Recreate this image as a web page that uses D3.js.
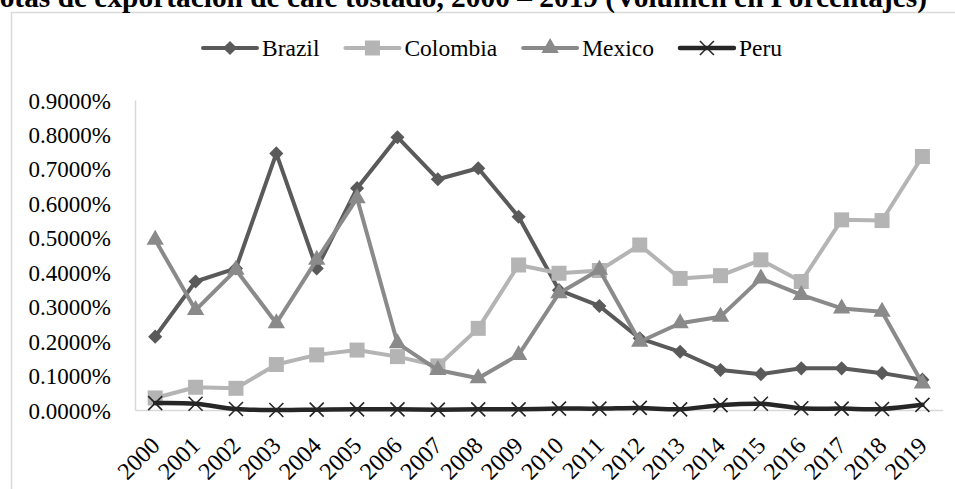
<!DOCTYPE html>
<html lang="es">
<head>
    <meta charset="UTF-8">
    <title>Cuotas de exportación de café tostado</title>
    <script src="https://d3js.org/d3.v7.min.js"></script>
    <style>
        body {
            margin: 0;
            background: #fff;
            font-family: "Liberation Serif", "Times New Roman", serif;
        }
        .axis path {
            stroke: #d9d9d9;
            stroke-width: 1.5px;
        }
    </style>
</head>
<body>
    <div id="chart"></div>

    <script>
        const width = 955;
        const height = 489;
        const serif = '"Liberation Serif", "Times New Roman", serif';

        // data (share of volume, as fraction)
        const years = ["2000", "2001", "2002", "2003", "2004", "2005", "2006", "2007", "2008", "2009",
                       "2010", "2011", "2012", "2013", "2014", "2015", "2016", "2017", "2018", "2019"];
        const brazil = [0.00213, 0.00373, 0.00411, 0.00745, 0.00411, 0.00644, 0.00792, 0.00670, 0.00702, 0.00561,
                        0.00348, 0.00302, 0.00208, 0.00169, 0.00116, 0.00104, 0.00121, 0.00121, 0.00107, 0.00088];
        const colombia = [0.00035, 0.00066, 0.00063, 0.00132, 0.00160, 0.00174, 0.00155, 0.00128, 0.00237, 0.00421,
                          0.00397, 0.00405, 0.00479, 0.00382, 0.00390, 0.00436, 0.00373, 0.00552, 0.00550, 0.00736];
        const mexico = [0.00494, 0.00290, 0.00407, 0.00252, 0.00436, 0.00615, 0.00194, 0.00116, 0.00092, 0.00160,
                        0.00339, 0.00407, 0.00198, 0.00252, 0.00271, 0.00382, 0.00334, 0.00295, 0.00285, 0.00077];
        const peru = [0.00020, 0.00018, 0.00003, 0.00000, 0.00001, 0.00002, 0.00002, 0.00001, 0.00002, 0.00002,
                      0.00004, 0.00004, 0.00006, 0.00002, 0.00014, 0.00018, 0.00005, 0.00004, 0.00003, 0.00015];
        const yTicks = [0, 0.001, 0.002, 0.003, 0.004, 0.005, 0.006, 0.007, 0.008, 0.009];

        const series = [
            { name: "Brazil", values: brazil, color: "#5a5a5a", marker: "diamond", width: 4 },
            { name: "Colombia", values: colombia, color: "#b4b4b4", marker: "square", width: 4 },
            { name: "Mexico", values: mexico, color: "#8a8a8a", marker: "triangle", width: 4 },
            { name: "Peru", values: peru, color: "#262626", marker: "cross", width: 4.5 }
        ];

        const svg = d3.select("#chart")
            .append("svg")
            .attr("width", width)
            .attr("height", height)
            .style("font-family", serif);

        // chart frame
        svg.append("rect")
            .attr("x", 11.5)
            .attr("y", 12.5)
            .attr("width", 1000)
            .attr("height", 600)
            .attr("fill", "none")
            .attr("stroke", "#d9d9d9")
            .attr("stroke-width", 1.5);

        // title, partly cut off at the top of the picture
        svg.append("text")
            .attr("x", 927)
            .attr("y", 6.5)
            .attr("text-anchor", "end")
            .style("font-weight", "bold")
            .style("font-size", "29.4px")
            .text("Cuotas de exportación de café tostado, 2000 – 2019 (Volumen en Porcentajes)");

        const x = d3.scaleBand()
            .domain(years)
            .range([135, 942.6]);

        const y = d3.scaleLinear()
            .domain([0, 0.009])
            .range([410, 100]);

        const cx = d => x(d) + x.bandwidth() / 2;

        const styleAxis = (g, size) => g
            .attr("font-family", null)
            .attr("font-size", null)
            .style("font-family", serif)
            .style("font-size", size)
            .call(g => g.selectAll("text").attr("fill", "#000"));

        svg.append("g")
            .attr("class", "axis")
            .attr("transform", "translate(135,0)")
            .call(d3.axisLeft(y).tickValues(yTicks).tickFormat(d3.format(".4%")).tickSize(0).tickPadding(24))
            .call(styleAxis, "23px")
            .call(g => g.selectAll("text").attr("dy", "0.35em"));

        svg.append("g")
            .attr("class", "axis")
            .attr("transform", "translate(0,410)")
            .call(d3.axisBottom(x).tickSize(0).tickSizeOuter(0))
            .call(styleAxis, "24px")
            .call(g => g.selectAll(".tick text")
                .attr("text-anchor", "end")
                .attr("dy", null)
                .attr("y", 0)
                .attr("transform", "translate(6,37) rotate(-45)"));

        const markerPath = {
            diamond: d3.symbol().type(d3.symbolSquare).size(100)(),
            square: d3.symbol().type(d3.symbolSquare).size(225)(),
            triangle: d3.symbol().type(d3.symbolTriangle).size(130)(),
            cross: "M-7,-7L7,7M7,-7L-7,7"
        };

        function drawMarker(g, s) {
            const m = g.append("path").attr("d", markerPath[s.marker]);
            if (s.marker === "cross") {
                m.attr("fill", "none").attr("stroke", s.color).attr("stroke-width", 1.6);
            } else {
                m.attr("fill", s.color);
            }
            if (s.marker === "diamond") m.attr("transform", "rotate(45)");
            return m;
        }

        series.forEach(s => {
            const line = d3.line()
                .x((d, i) => cx(years[i]))
                .y(d => y(d))
                .curve(s.marker === "cross" ? d3.curveCatmullRom.alpha(0.5) : d3.curveLinear);

            const g = svg.append("g");
            g.append("path")
                .datum(s.values)
                .attr("d", line)
                .attr("fill", "none")
                .attr("stroke", s.color)
                .attr("stroke-width", s.width)
                .attr("stroke-linejoin", "round")
                .attr("stroke-linecap", "round");

            s.values.forEach((v, i) => {
                const mg = g.append("g").attr("transform", `translate(${cx(years[i])},${y(v)})`);
                drawMarker(mg, s);
            });
        });

        // legend
        let lx = 203;
        const ly = 48;
        series.forEach(s => {
            const item = svg.append("g");
            item.append("line")
                .attr("x1", lx).attr("x2", lx + 54)
                .attr("y1", ly).attr("y2", ly)
                .attr("stroke", s.color)
                .attr("stroke-width", s.width)
                .attr("stroke-linecap", "round");
            drawMarker(item.append("g").attr("transform", `translate(${lx + 27},${ly})`), s);
            const t = item.append("text")
                .attr("x", lx + 59)
                .attr("y", ly)
                .attr("dy", "0.35em")
                .style("font-size", "23.5px")
                .text(s.name);
            lx += 59 + t.node().getComputedTextLength() + 26;
        });
    </script>
</body>
</html>
